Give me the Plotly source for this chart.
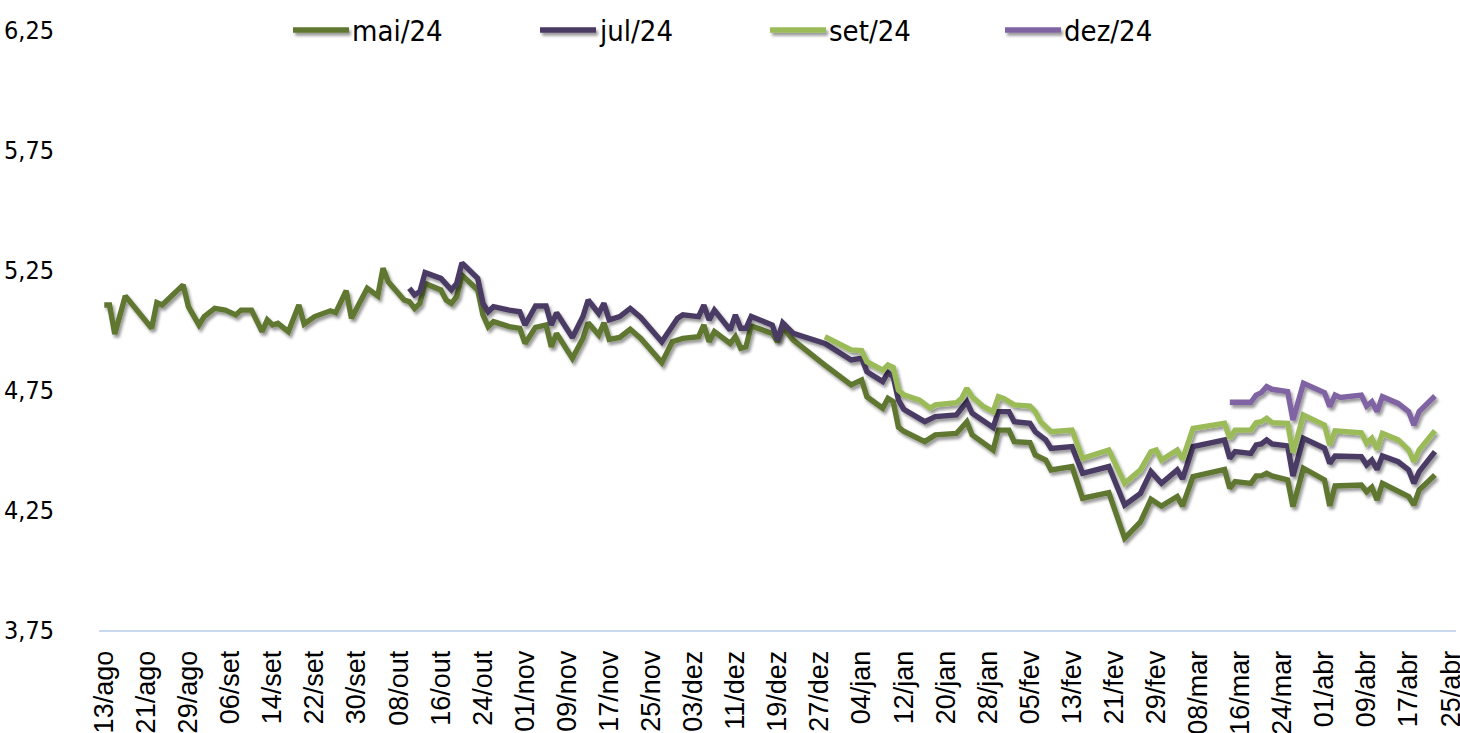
import pandas as pd
import plotly.graph_objects as go

# Implied policy-rate path per meeting contract (% a.a.)
series_names = ["mai/24", "jul/24", "set/24", "dez/24"]
series_colors = ["#617731", "#4a3a63", "#9bbb59", "#8064a2"]

mai_dates = [
    "2023-08-13", "2023-08-14", "2023-08-15", "2023-08-17", "2023-08-22", "2023-08-23",
    "2023-08-24", "2023-08-25", "2023-08-28", "2023-08-29", "2023-08-31", "2023-09-01",
    "2023-09-03", "2023-09-05", "2023-09-07", "2023-09-08", "2023-09-10", "2023-09-12",
    "2023-09-13", "2023-09-14", "2023-09-15", "2023-09-17", "2023-09-19", "2023-09-20",
    "2023-09-22", "2023-09-25", "2023-09-26", "2023-09-28", "2023-09-29", "2023-10-02",
    "2023-10-04", "2023-10-05", "2023-10-06", "2023-10-09", "2023-10-10", "2023-10-11",
    "2023-10-12", "2023-10-13", "2023-10-16", "2023-10-17", "2023-10-18", "2023-10-19",
    "2023-10-20", "2023-10-23", "2023-10-24", "2023-10-25", "2023-10-26", "2023-10-29",
    "2023-10-31", "2023-11-01", "2023-11-03", "2023-11-05", "2023-11-06", "2023-11-07",
    "2023-11-10", "2023-11-12", "2023-11-13", "2023-11-15", "2023-11-16", "2023-11-17",
    "2023-11-19", "2023-11-21", "2023-11-23", "2023-11-27", "2023-11-29", "2023-12-01",
    "2023-12-04", "2023-12-05", "2023-12-06", "2023-12-07", "2023-12-10", "2023-12-11",
    "2023-12-12", "2023-12-13", "2023-12-14", "2023-12-18", "2023-12-19", "2023-12-20",
    "2023-12-22", "2023-12-28", "2024-01-02", "2024-01-04", "2024-01-05", "2024-01-08",
    "2024-01-09", "2024-01-10", "2024-01-11", "2024-01-12", "2024-01-16", "2024-01-18",
    "2024-01-22", "2024-01-24", "2024-01-25", "2024-01-29", "2024-01-30", "2024-02-01",
    "2024-02-02", "2024-02-05", "2024-02-06", "2024-02-08", "2024-02-09", "2024-02-13",
    "2024-02-15", "2024-02-20", "2024-02-23", "2024-02-26", "2024-02-28", "2024-03-01",
    "2024-03-04", "2024-03-05", "2024-03-07", "2024-03-13", "2024-03-14", "2024-03-15",
    "2024-03-18", "2024-03-19", "2024-03-20", "2024-03-21", "2024-03-22", "2024-03-25",
    "2024-03-26", "2024-03-28", "2024-04-01", "2024-04-02", "2024-04-03", "2024-04-08",
    "2024-04-09", "2024-04-10", "2024-04-11", "2024-04-12", "2024-04-15", "2024-04-17",
    "2024-04-18", "2024-04-19", "2024-04-22",
]
mai_values = [
    5.104, 5.104, 4.983, 5.142, 5.007, 5.114,
    5.104, 5.125, 5.188, 5.097, 5.021, 5.056,
    5.090, 5.083, 5.063, 5.083, 5.083, 4.993,
    5.042, 5.021, 5.028, 4.993, 5.104, 5.025,
    5.056, 5.080, 5.072, 5.164, 5.049, 5.174,
    5.142, 5.257, 5.201, 5.125, 5.118, 5.090,
    5.111, 5.194, 5.167, 5.125, 5.111, 5.139,
    5.229, 5.167, 5.063, 5.014, 5.035, 5.014,
    5.007, 4.944, 5.011, 5.021, 4.930, 4.986,
    4.882, 4.965, 5.030, 4.979, 5.030, 4.961,
    4.969, 5.003, 4.965, 4.864, 4.951, 4.965,
    4.972, 5.021, 4.951, 4.993, 4.944, 4.972,
    4.924, 4.930, 5.017, 4.986, 4.951, 5.011,
    4.958, 4.854, 4.771, 4.792, 4.722, 4.674,
    4.715, 4.701, 4.595, 4.578, 4.535, 4.563,
    4.569, 4.618, 4.563, 4.500, 4.583, 4.583,
    4.535, 4.531, 4.479, 4.458, 4.417, 4.431,
    4.299, 4.322, 4.132, 4.200, 4.295, 4.266,
    4.306, 4.266, 4.389, 4.419, 4.340, 4.368,
    4.361, 4.392, 4.392, 4.403, 4.392, 4.375,
    4.264, 4.424, 4.375, 4.267, 4.350, 4.354,
    4.326, 4.345, 4.292, 4.361, 4.330, 4.306,
    4.271, 4.333, 4.396,
]

jul_dates = [
    "2023-10-10", "2023-10-11", "2023-10-12", "2023-10-13", "2023-10-16", "2023-10-18",
    "2023-10-19", "2023-10-20", "2023-10-23", "2023-10-24", "2023-10-25", "2023-10-26",
    "2023-10-29", "2023-10-31", "2023-11-01", "2023-11-03", "2023-11-05", "2023-11-06",
    "2023-11-07", "2023-11-10", "2023-11-12", "2023-11-13", "2023-11-15", "2023-11-16",
    "2023-11-17", "2023-11-19", "2023-11-21", "2023-11-23", "2023-11-27", "2023-11-30",
    "2023-12-01", "2023-12-04", "2023-12-05", "2023-12-06", "2023-12-07", "2023-12-10",
    "2023-12-11", "2023-12-12", "2023-12-13", "2023-12-14", "2023-12-18", "2023-12-19",
    "2023-12-20", "2023-12-22", "2023-12-28", "2024-01-02", "2024-01-04", "2024-01-05",
    "2024-01-08", "2024-01-09", "2024-01-10", "2024-01-11", "2024-01-12", "2024-01-16",
    "2024-01-18", "2024-01-22", "2024-01-24", "2024-01-25", "2024-01-29", "2024-01-30",
    "2024-02-01", "2024-02-02", "2024-02-05", "2024-02-06", "2024-02-08", "2024-02-09",
    "2024-02-13", "2024-02-15", "2024-02-20", "2024-02-23", "2024-02-26", "2024-02-28",
    "2024-03-01", "2024-03-04", "2024-03-05", "2024-03-07", "2024-03-13", "2024-03-14",
    "2024-03-15", "2024-03-18", "2024-03-19", "2024-03-20", "2024-03-21", "2024-03-22",
    "2024-03-25", "2024-03-26", "2024-03-28", "2024-04-01", "2024-04-02", "2024-04-03",
    "2024-04-08", "2024-04-09", "2024-04-10", "2024-04-11", "2024-04-12", "2024-04-15",
    "2024-04-17", "2024-04-18", "2024-04-19", "2024-04-22",
]
jul_values = [
    5.174, 5.146, 5.160, 5.239, 5.215, 5.167,
    5.194, 5.280, 5.215, 5.111, 5.076, 5.097,
    5.083, 5.076, 5.021, 5.100, 5.100, 5.021,
    5.072, 4.969, 5.056, 5.125, 5.069, 5.111,
    5.042, 5.056, 5.090, 5.052, 4.951, 5.049,
    5.063, 5.056, 5.104, 5.042, 5.083, 5.000,
    5.063, 5.007, 5.007, 5.056, 5.021, 4.958,
    5.030, 4.986, 4.944, 4.875, 4.882, 4.826,
    4.785, 4.822, 4.806, 4.708, 4.670, 4.618,
    4.639, 4.646, 4.701, 4.653, 4.594, 4.660,
    4.660, 4.618, 4.611, 4.576, 4.542, 4.507,
    4.514, 4.403, 4.431, 4.271, 4.319, 4.410,
    4.361, 4.417, 4.380, 4.514, 4.542, 4.465,
    4.493, 4.486, 4.521, 4.525, 4.542, 4.525,
    4.517, 4.392, 4.549, 4.507, 4.444, 4.475,
    4.472, 4.438, 4.458, 4.419, 4.475, 4.451,
    4.417, 4.361, 4.410, 4.493,
]

set_dates = [
    "2023-12-28", "2024-01-02", "2024-01-04", "2024-01-05", "2024-01-08", "2024-01-09",
    "2024-01-10", "2024-01-11", "2024-01-12", "2024-01-15", "2024-01-17", "2024-01-18",
    "2024-01-22", "2024-01-23", "2024-01-24", "2024-01-25", "2024-01-27", "2024-01-29",
    "2024-01-30", "2024-01-31", "2024-02-02", "2024-02-05", "2024-02-06", "2024-02-07",
    "2024-02-09", "2024-02-13", "2024-02-15", "2024-02-20", "2024-02-23", "2024-02-26",
    "2024-02-28", "2024-02-29", "2024-03-01", "2024-03-04", "2024-03-05", "2024-03-07",
    "2024-03-13", "2024-03-14", "2024-03-15", "2024-03-18", "2024-03-19", "2024-03-20",
    "2024-03-21", "2024-03-22", "2024-03-25", "2024-03-26", "2024-03-28", "2024-04-01",
    "2024-04-02", "2024-04-03", "2024-04-08", "2024-04-09", "2024-04-10", "2024-04-11",
    "2024-04-12", "2024-04-15", "2024-04-17", "2024-04-18", "2024-04-19", "2024-04-22",
]
set_values = [
    4.972, 4.917, 4.914, 4.868, 4.833, 4.854,
    4.844, 4.750, 4.730, 4.708, 4.674, 4.688,
    4.697, 4.715, 4.757, 4.722, 4.683, 4.660,
    4.722, 4.715, 4.688, 4.683, 4.660, 4.618,
    4.576, 4.583, 4.465, 4.500, 4.361, 4.417,
    4.493, 4.500, 4.458, 4.500, 4.461, 4.590,
    4.611, 4.549, 4.583, 4.583, 4.614, 4.618,
    4.632, 4.614, 4.611, 4.489, 4.646, 4.604,
    4.521, 4.580, 4.572, 4.528, 4.549, 4.503,
    4.569, 4.542, 4.500, 4.451, 4.500, 4.580,
]

dez_dates = [
    "2024-03-14", "2024-03-18", "2024-03-19", "2024-03-20", "2024-03-21", "2024-03-22",
    "2024-03-25", "2024-03-26", "2024-03-28", "2024-04-01", "2024-04-02", "2024-04-03",
    "2024-04-04", "2024-04-08", "2024-04-09", "2024-04-10", "2024-04-11", "2024-04-12",
    "2024-04-15", "2024-04-17", "2024-04-18", "2024-04-19", "2024-04-22",
]
dez_values = [
    4.699, 4.699, 4.729, 4.739, 4.764, 4.753,
    4.743, 4.625, 4.778, 4.739, 4.681, 4.729,
    4.719, 4.729, 4.683, 4.701, 4.660, 4.722,
    4.694, 4.660, 4.604, 4.660, 4.725,
]

x_tick_labels = [
    "13/ago", "21/ago", "29/ago", "06/set", "14/set", "22/set", "30/set", "08/out",
    "16/out", "24/out", "01/nov", "09/nov", "17/nov", "25/nov", "03/dez", "11/dez",
    "19/dez", "27/dez", "04/jan", "12/jan", "20/jan", "28/jan", "05/fev", "13/fev",
    "21/fev", "29/fev", "08/mar", "16/mar", "24/mar", "01/abr", "09/abr", "17/abr",
    "25/abr",
]
y_ticks = [3.75, 4.25, 4.75, 5.25, 5.75, 6.25]

series_dates = [mai_dates, jul_dates, set_dates, dez_dates]
series_values = [mai_values, jul_values, set_values, dez_values]

# ticks every 8 days, starting on the first label
x_tick_dates = pd.date_range("2023-08-13", periods=len(x_tick_labels), freq="8D")

NARROW = "Liberation Sans Narrow, DejaVu Sans Condensed, Liberation Sans, sans-serif"
REGULAR = "Liberation Sans, Arial, sans-serif"

fig = go.Figure()
for name, dates, values, color in zip(series_names, series_dates, series_values, series_colors):
    fig.add_trace(go.Scatter(
        x=pd.to_datetime(dates), y=values, mode="lines", name=name,
        line=dict(color=color, width=5.4), showlegend=False,
        hovertemplate="%{x|%d/%m/%Y}: %{y:.2f}<extra>" + name + "</extra>",
    ))

# hand-drawn horizontal legend along the top edge
W, L, R = 1460, 99, 4
plot_w = W - L - R
legend_left_px = [293, 540, 770, 1005]
legend_line_px = 56
shapes, annotations = [], []
for name, color, px in zip(series_names, series_colors, legend_left_px):
    x0 = (px - L) / plot_w
    x1 = (px + legend_line_px - L) / plot_w
    shapes.append(dict(type="line", xref="paper", yref="paper", x0=x0, x1=x1, y0=1.0, y1=1.0,
                       line=dict(color=color, width=5.4)))
    annotations.append(dict(xref="paper", yref="paper", x=x1, y=1.0, text=name, showarrow=False,
                            xanchor="left", yanchor="middle", xshift=1, yshift=-1,
                            font=dict(family=NARROW, size=29, color="black")))

fig.update_layout(
    width=W, height=733,
    margin=dict(l=L, r=R, t=30, b=103),
    paper_bgcolor="white", plot_bgcolor="white",
    separators=",.",
    showlegend=False,
    shapes=shapes, annotations=annotations,
    xaxis=dict(
        type="date", range=["2023-08-12", "2024-04-26"],
        tickmode="array", tickvals=x_tick_dates, ticktext=x_tick_labels,
        tickangle=-90, ticks="", showgrid=False, zeroline=False,
        showline=True, linecolor="#c9d9ee", linewidth=2,
        tickfont=dict(family=REGULAR, size=27, color="black"),
        ticklabelstandoff=8, ticklabeloverflow="allow", automargin=False,
    ),
    yaxis=dict(
        range=[3.75, 6.25], tickmode="array", tickvals=y_ticks, tickformat=".2f",
        ticks="", showgrid=False, zeroline=False, showline=False,
        tickfont=dict(family=NARROW, size=25, color="black"),
        ticklabelstandoff=44, automargin=False,
    ),
)

# soft drop shadow under the series lines and legend keys
shadow_js = """
var gd = document.getElementById('{plot_id}');
var svg = gd.querySelector('svg.main-svg');
var ns = 'http://www.w3.org/2000/svg';
var defs = svg.querySelector('defs');
if (!defs) { defs = document.createElementNS(ns, 'defs'); svg.insertBefore(defs, svg.firstChild); }
var f = document.createElementNS(ns, 'filter');
f.setAttribute('id', 'lineShadow');
f.setAttribute('filterUnits', 'userSpaceOnUse');
f.setAttribute('x', '-200'); f.setAttribute('y', '-200');
f.setAttribute('width', '2000'); f.setAttribute('height', '1200');
var ds = document.createElementNS(ns, 'feDropShadow');
ds.setAttribute('dx', '2'); ds.setAttribute('dy', '3');
ds.setAttribute('stdDeviation', '1.8');
ds.setAttribute('flood-color', '#000000'); ds.setAttribute('flood-opacity', '0.4');
f.appendChild(ds); defs.appendChild(f);
gd.querySelectorAll('.scatterlayer .trace .js-line').forEach(function (p) { p.setAttribute('filter', 'url(#lineShadow)'); });
gd.querySelectorAll('.shapelayer path').forEach(function (p) { p.setAttribute('filter', 'url(#lineShadow)'); });
"""

fig.write_html("out.html", post_script=shadow_js)
